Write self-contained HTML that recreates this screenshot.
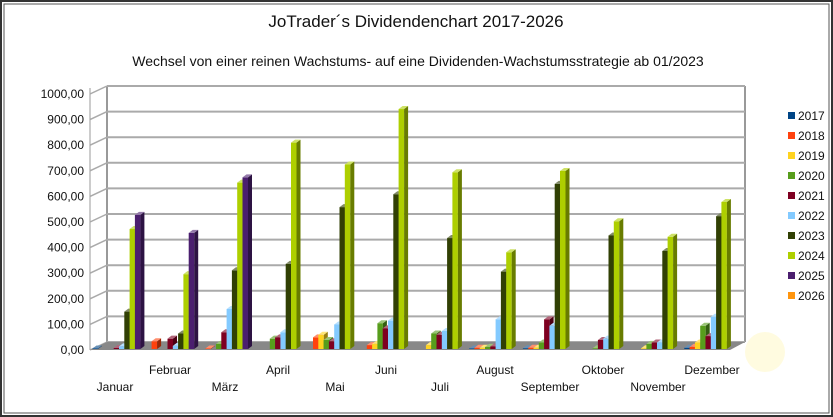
<!DOCTYPE html>
<html><head><meta charset="utf-8"><style>
body{margin:0;background:#fff}
svg{display:block;font-family:"Liberation Sans",sans-serif}
</style></head><body>
<svg id="c" width="833" height="417" viewBox="0 0 833 417" xmlns="http://www.w3.org/2000/svg">
<rect x="0" y="0" width="833" height="417" fill="#fff"/>
<rect x="1" y="1" width="831" height="415" fill="none" stroke="#333" stroke-width="2"/>
<rect x="4" y="4" width="825" height="409" fill="none" stroke="#555" stroke-width="1"/>
<text x="416" y="27" text-anchor="middle" font-size="17" fill="#111">JoTrader´s Dividendenchart 2017-2026</text>
<text x="418" y="66" text-anchor="middle" font-size="14" fill="#111">Wechsel von einer reinen Wachstums- auf eine Dividenden-Wachstumsstrategie ab 01/2023</text>
<circle cx="765" cy="352" r="20" fill="#fffbe0"/>
<g id="grid"></g>
<g id="bars"></g>
<g id="lab" font-size="12" fill="#111"></g>
<g id="leg" font-size="12" fill="#111"></g>
</svg>
<script>
var ns="http://www.w3.org/2000/svg";
function el(p,t,a,txt){var e=document.createElementNS(ns,t);for(var k in a)e.setAttribute(k,a[k]);if(txt!=null)e.textContent=txt;document.getElementById(p).appendChild(e);return e;}
var Y0b=342,sc=0.256;
el("grid","line",{x1:107,y1:86,x2:107,y2:342,stroke:"#999","stroke-width":2});
el("grid","line",{x1:745,y1:86,x2:745,y2:342,stroke:"#999","stroke-width":2});
el("grid","line",{x1:90,y1:88,x2:90,y2:350,stroke:"#999","stroke-width":1});
for(var v=0;v<=1000;v+=100){var y=Y0b-v*sc;
 el("grid","line",{x1:107,y1:y,x2:745,y2:y,stroke:"#aaa","stroke-width":2});
 el("grid","line",{x1:90,y1:y+8,x2:107,y2:y,stroke:"#aaa","stroke-width":1.5});
 el("lab","text",{x:84,y:y+12,"text-anchor":"end"},(v===1000?"1000,00":v.toFixed(2).replace(".",",")));}
el("grid","polygon",{points:"90,350 107,342 745,342 730,350",fill:"#888"});
var cols=["#004586","#ff420e","#ffd320","#579d1c","#7e0021","#83caff","#314004","#aecf00","#4b1f6f","#ff950e"];
var data=[
[2,0,0,0,4,10,145,465,520,0],
[0,30,0,0,40,12,60,290,450,0],
[0,2,0,20,65,155,305,645,665,0],
[0,0,0,40,45,65,330,800,0,0],
[0,45,55,35,30,95,550,715,0,0],
[0,15,20,100,80,110,600,930,0,0],
[0,0,15,60,55,70,430,685,0,0],
[2,5,5,8,10,115,300,375,0,0],
[3,5,5,25,115,90,640,690,0,0],
[0,0,0,3,35,40,440,495,0,0],
[0,0,3,20,25,25,380,435,0,0],
[5,8,25,90,50,125,515,570,0,0]];
function shade(h,f){var n=parseInt(h.slice(1),16),r=n>>16,g=(n>>8)&255,b=n&255;
 function c(x){return Math.max(0,Math.min(255,Math.round(f<1?x*f:x+(255-x)*(f-1))));}
 return "rgb("+c(r)+","+c(g)+","+c(b)+")";}
for(var m=0;m<12;m++)for(var i=0;i<10;i++){var v=data[m][i];if(!v)continue;
 var x=90+m*53.8+2.5+i*5.3,w=5.5,h=v*0.258,yb=349,yt=yb-h,d=4;
 el("bars","rect",{x:x,y:yt,width:w,height:h,fill:cols[i]});
 el("bars","polygon",{points:(x+w)+","+yt+" "+(x+w+d)+","+(yt-3)+" "+(x+w+d)+","+(yb-3)+" "+(x+w)+","+yb,fill:shade(cols[i],0.6)});
 el("bars","polygon",{points:x+","+yt+" "+(x+d)+","+(yt-3)+" "+(x+w+d)+","+(yt-3)+" "+(x+w)+","+yt,fill:shade(cols[i],1.4)});}
var months=["Januar","Februar","März","April","Mai","Juni","Juli","August","September","Oktober","November","Dezember"];
var cx=[115,170,225,278,335,386,440,495,550,603,658,712];
for(var m=0;m<12;m++)el("lab","text",{x:cx[m],y:(m%2?374:391),"text-anchor":"middle"},months[m]);
for(var i=0;i<10;i++){var y=112+i*20;el("leg","rect",{x:788,y:y,width:7,height:7,fill:cols[i]});el("leg","text",{x:798,y:y+8},""+(2017+i));}
</script>
</body></html>
